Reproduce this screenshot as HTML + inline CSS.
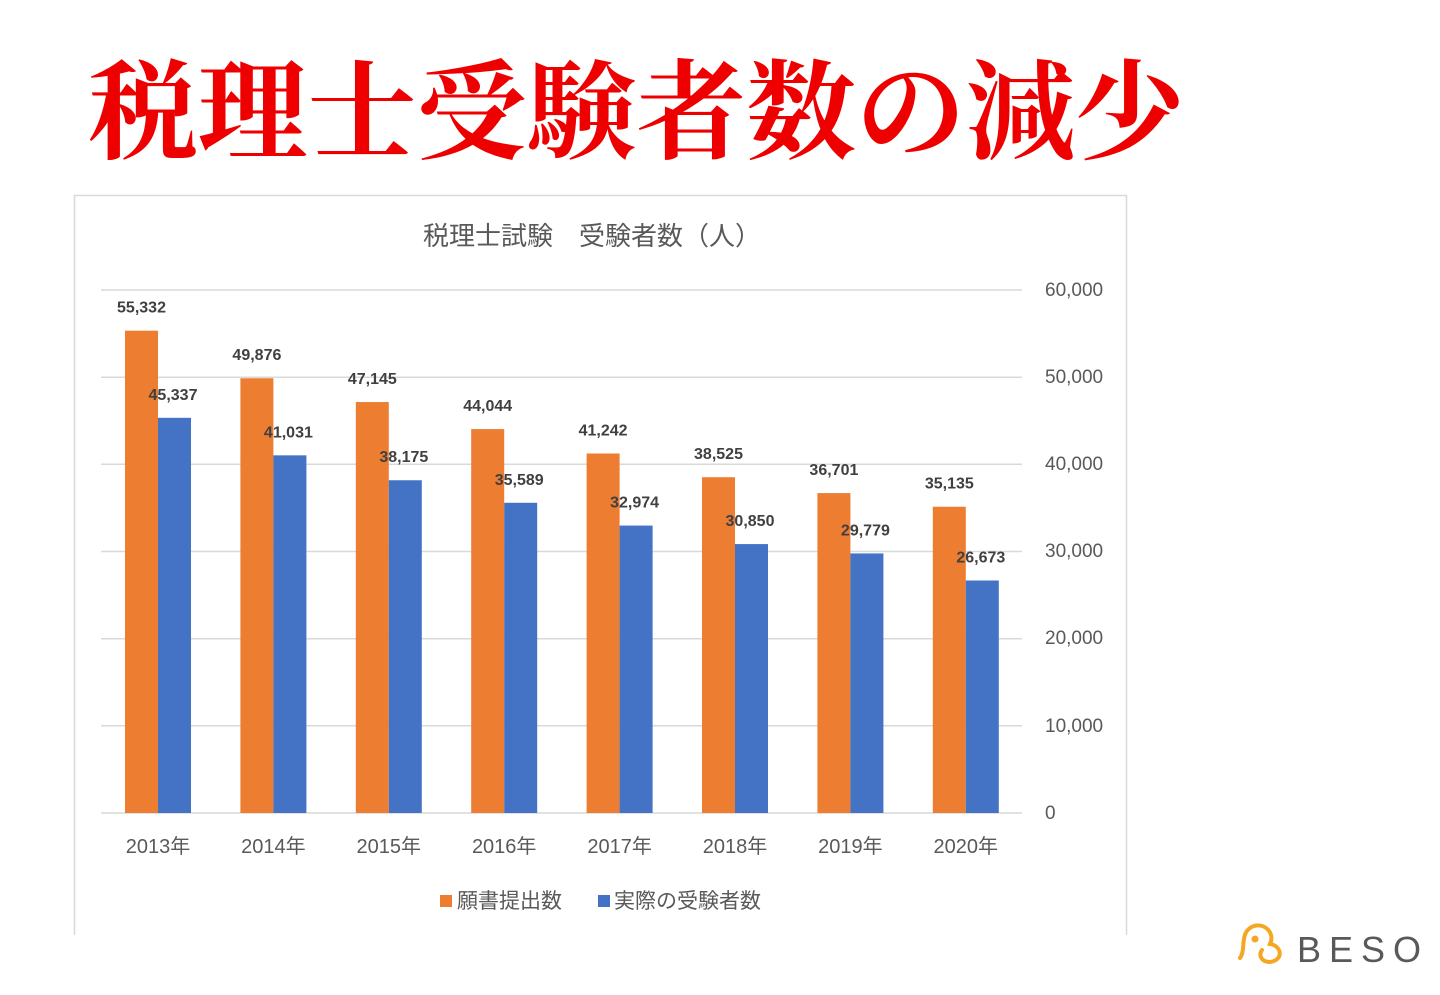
<!DOCTYPE html>
<html><head><meta charset="utf-8"><style>
html,body{margin:0;padding:0;background:#fff;width:1440px;height:995px;overflow:hidden}
svg text{font-family:"Liberation Sans","Noto Sans CJK JP",sans-serif}
</style></head><body>
<svg width="1440" height="995" xmlns="http://www.w3.org/2000/svg">
<text x="88" y="150" font-size="108" fill="#ee0000" style="font-family:'Noto Serif CJK JP','Noto Serif CJK SC',serif;font-weight:700" textLength="1097" lengthAdjust="spacingAndGlyphs">税理士受験者数の減少</text>
<path d="M74.5 935 V195.5 H1126.5 V935" fill="none" stroke="#d9d9d9" stroke-width="1.5"/>
<text x="592" y="245" font-size="26" fill="#595959" text-anchor="middle" xml:space="preserve">税理士試験　受験者数（人）</text>
<g stroke="#d9d9d9" stroke-width="1.5">
<line x1="101" x2="1022" y1="290" y2="290"/><line x1="101" x2="1022" y1="377.2" y2="377.2"/>
<line x1="101" x2="1022" y1="464.3" y2="464.3"/><line x1="101" x2="1022" y1="551.5" y2="551.5"/>
<line x1="101" x2="1022" y1="638.7" y2="638.7"/><line x1="101" x2="1022" y1="725.8" y2="725.8"/>
<line x1="101" x2="1022" y1="813" y2="813"/>
</g>
<g font-size="19" fill="#595959">
<text x="1045" y="296">60,000</text><text x="1045" y="383">50,000</text><text x="1045" y="470">40,000</text>
<text x="1045" y="557">30,000</text><text x="1045" y="644">20,000</text><text x="1045" y="732">10,000</text>
<text x="1045" y="819">0</text>
</g>
<g id="bars"></g>
<rect x="440" y="895" width="12" height="12" fill="#ed7d31"/>
<text x="457" y="908" font-size="21" fill="#595959">願書提出数</text>
<rect x="598" y="895" width="12" height="12" fill="#4472c4"/>
<text x="614" y="908" font-size="21" fill="#595959">実際の受験者数</text>
<g fill="none" stroke="#f5a623" stroke-width="4" stroke-linecap="round">
<path d="M1240 958 C1246 950 1240 935 1250 928 C1262 920 1276 932 1270 944 C1282 946 1284 960 1270 962 C1262 962 1258 956 1262 950"/>
<circle cx="1255" cy="939" r="1.5" fill="#f5a623"/>
</g>
<text x="1297" y="962" font-size="36" fill="#595959" letter-spacing="8">BESO</text>
</svg>
<script>
const o=[55332,49876,47145,44044,41242,38525,36701,35135],b=[45337,41031,38175,35589,32974,30850,29779,26673];
const g=document.getElementById('bars');let h='';
const f=v=>v.toLocaleString('en-US');
for(let i=0;i<8;i++){const x=125+i*115.4;const yo=813-o[i]*523/60000,yb=813-b[i]*523/60000;
h+=`<rect x="${x}" y="${yo}" width="33" height="${813-yo}" fill="#ed7d31"/><rect x="${x+33}" y="${yb}" width="33" height="${813-yb}" fill="#4472c4"/>`;
h+=`<text x="${x+16.5}" y="${yo-18}" font-size="16" font-weight="bold" fill="#404040" text-anchor="middle">${f(o[i])}</text>`;
h+=`<text x="${x+48}" y="${yb-18}" font-size="16" font-weight="bold" fill="#404040" text-anchor="middle">${f(b[i])}</text>`;
h+=`<text x="${x+33}" y="853" font-size="20" fill="#595959" text-anchor="middle">${2013+i}年</text>`;}
g.innerHTML=h;
</script>
</body></html>
